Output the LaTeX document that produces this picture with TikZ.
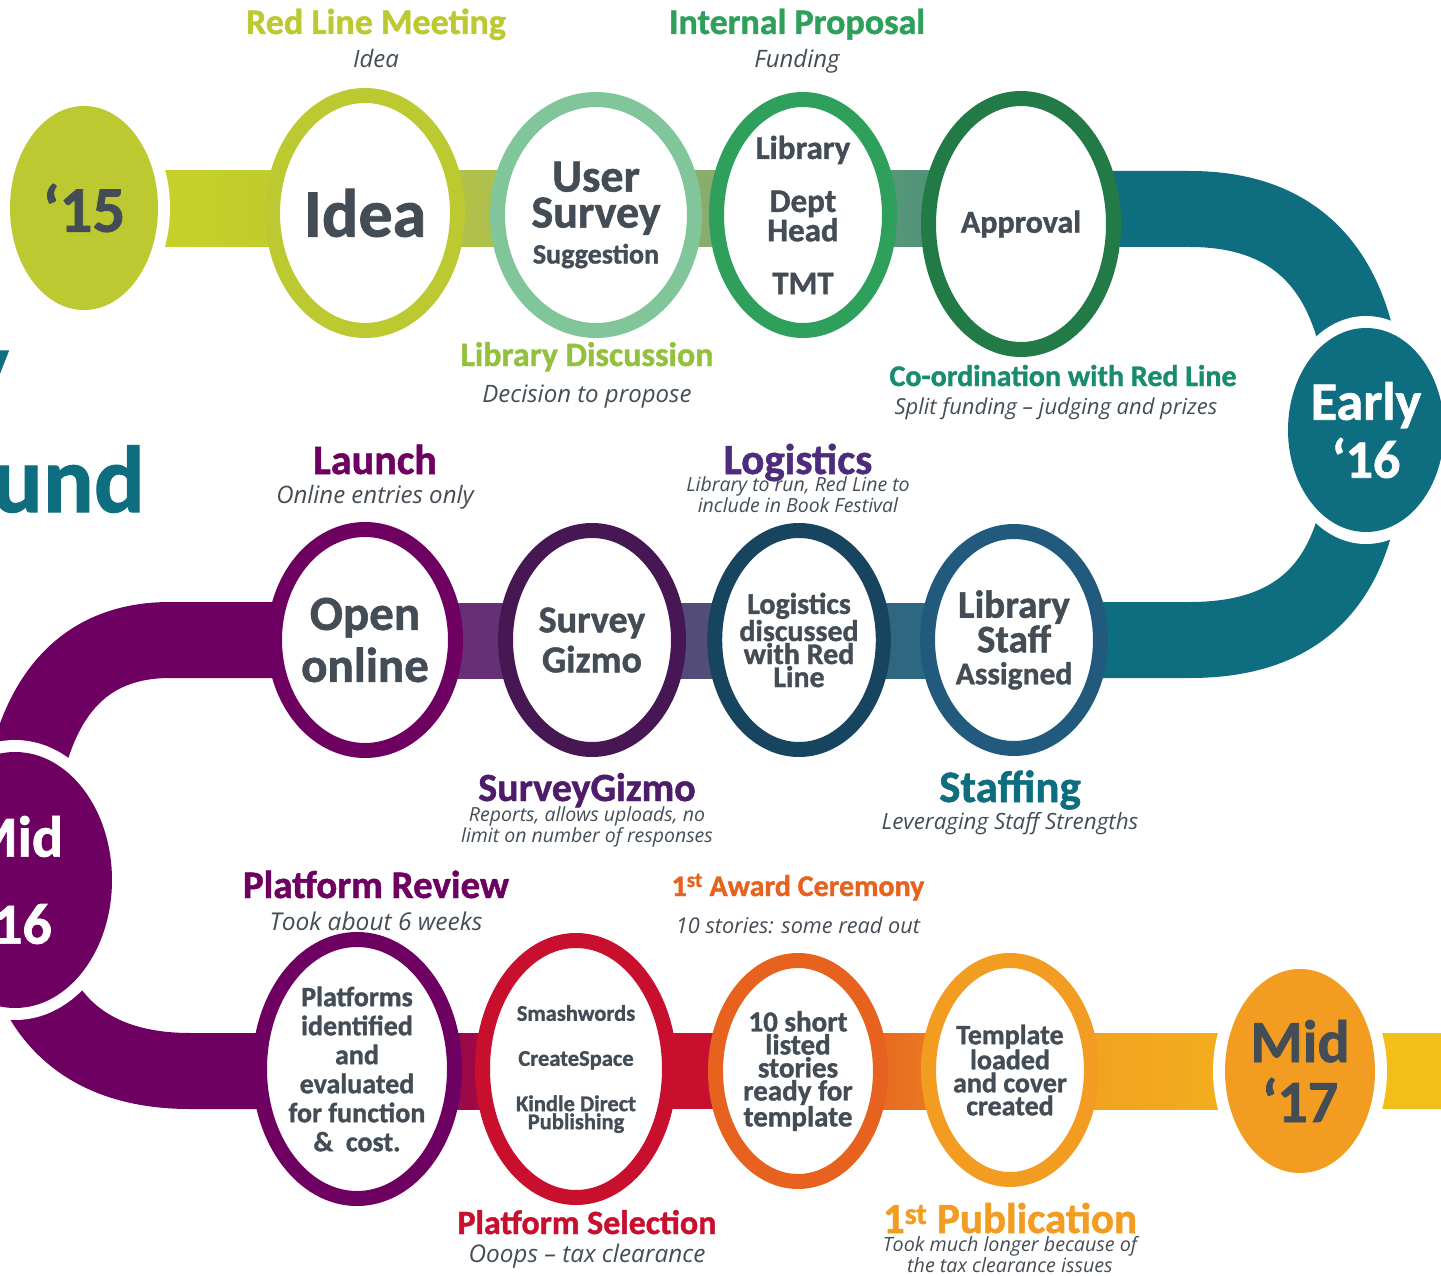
\documentclass[tikz,border=0pt]{standalone}
\usepackage{fontspec}
\setmainfont{Carlito}[BoldFeatures={FakeBold=1.2}]
\newfontfamily\notefont{Open Sans}
\usetikzlibrary{shapes.geometric}
\definecolor{txtgrey}{HTML}{444D56}
\definecolor{lime}{HTML}{BCC930}
\definecolor{mint}{HTML}{80C69A}
\definecolor{leaf}{HTML}{2EA05B}
\definecolor{forest}{HTML}{227A47}
\definecolor{sea}{HTML}{0F6D80}
\definecolor{plum}{HTML}{6E0061}
\definecolor{grape}{HTML}{461752}
\definecolor{deepteal}{HTML}{17445E}
\definecolor{steel}{HTML}{225A7E}
\definecolor{crimson}{HTML}{C8102E}
\definecolor{tangerine}{HTML}{E8621F}
\definecolor{amber}{HTML}{F29C22}
\definecolor{sun}{HTML}{F3BE1A}
\definecolor{libdisc}{HTML}{93C13E}
\definecolor{coord}{HTML}{178C6F}
\definecolor{logist}{HTML}{4D2C7E}
\definecolor{sgizmo}{HTML}{4F1C6C}
\pgfdeclarelayer{background}
\pgfsetlayers{background,main}
\newcommand{\fs}[2]{\fontsize{#1}{#2}\selectfont}
\begin{document}
\begin{tikzpicture}[x=1pt,y=-1pt,
    ring/.style={ellipse,draw=#1,fill=white,line width=15pt,inner sep=0pt,align=center,text=txtgrey},
    datenode/.style={ellipse,fill=#1,inner sep=0pt,align=center},
    band/.style={line width=76pt},
    title/.style={anchor=base,text=#1},
    note/.style={anchor=base,align=center,text=txtgrey}]
\useasboundingbox (0,0) rectangle (1441,1276);
% milestones, top row
\node[datenode=lime,text=txtgrey,minimum width=148,minimum height=204,font=\bfseries\fs{65}{60}] (y15) at (84,208) {‘15};
\node[ring=lime,minimum width=185,minimum height=235,font=\bfseries\fs{68}{60}] (idea) at (365,213) {Idea};
\node[ring=mint,minimum width=197,minimum height=231,font=\bfseries\fs{46}{36}] (survey) at (596,215) {User\\Survey\\{\fs{28}{27}Suggestion}};
\node[ring=leaf,minimum width=173,minimum height=231,font=\bfseries\fs{33}{27}] (library) at (803,215) {Library\\[26pt]Dept\\Head\\[26pt]TMT};
\node[ring=forest,minimum width=185,minimum height=251,font=\bfseries\fs{32}{30}] (approval) at (1021,224) {Approval};
\node[datenode=sea,text=white,minimum width=150,minimum height=204,font=\bfseries\fs{54}{58}] (early) at (1366,430) {Early\\‘16};
% middle row
\node[ring=plum,minimum width=181,minimum height=221,font=\bfseries\fs{49}{52}] (open) at (365,640) {Open\\online};
\node[ring=grape,minimum width=173,minimum height=219,font=\bfseries\fs{38}{40}] (gizmo) at (592,640) {Survey\\Gizmo};
\node[ring=deepteal,minimum width=163,minimum height=219,font=\bfseries\fs{30}{23}] (logistics) at (799,640) {Logistics\\discussed\\with Red\\Line};
\node[ring=steel,minimum width=173,minimum height=217,font=\bfseries\fs{39}{32}] (staff) at (1014,640) {Library\\Staff\\{\fs{31.5}{25}Assigned}};
\node[datenode=plum,text=white,minimum width=194,minimum height=256,font=\bfseries\fs{58}{87}] (mid16) at (15,880) {Mid\\‘16};
% bottom row
\node[ring=plum,minimum width=195,minimum height=259,font=\bfseries\fs{28}{29}] (platforms) at (357,1069) {Platforms\\identified\\and\\evaluated\\for function\\\&~ cost.};
\node[ring=crimson,minimum width=187,minimum height=257,font=\bfseries\fs{22.5}{18}] (smash) at (576,1069) {Smashwords\\[27pt]CreateSpace\\[25pt]Kindle Direct\\Publishing};
\node[ring=tangerine,minimum width=165,minimum height=221,font=\bfseries\fs{29}{23}] (short) at (798,1071) {10 short\\listed\\stories\\ready for\\template};
\node[ring=amber,minimum width=163,minimum height=219,font=\bfseries\fs{28}{23}] (template) at (1010,1070) {Template\\loaded\\and cover\\created};
\node[datenode=amber,text=txtgrey,minimum width=150,minimum height=204,font=\bfseries\fs{60}{60}] (mid17) at (1300,1071) {Mid\\‘17};
% captions
\node[title=lime,font=\bfseries\fs{36}{38}] (meeting) at (376,34) {Red Line Meeting};
\node[note,font=\notefont\itshape\fs{24}{24}] (meetingnote) at (376,68) {Idea};
\node[title=leaf,font=\bfseries\fs{36}{38}] (proposal) at (797,34) {Internal Proposal};
\node[note,font=\notefont\itshape\fs{24}{24}] (proposalnote) at (797,68) {Funding};
\node[title=libdisc,font=\bfseries\fs{34}{36}] (discussion) at (587,366) {Library Discussion};
\node[note,font=\notefont\itshape\fs{24}{24}] (discussionnote) at (587,402) {Decision to propose};
\node[title=coord,font=\bfseries\fs{30}{32}] (coordination) at (1063,386) {Co-ordination with Red Line};
\node[note,font=\notefont\itshape\fs{22}{22}] (coordinationnote) at (1056,414) {Split funding – judging and prizes};
\node[title=plum,font=\bfseries\fs{42}{44}] (launch) at (375,474) {Launch};
\node[note,font=\notefont\itshape\fs{24}{24}] (launchnote) at (375,503) {Online entries only};
\node[title=logist,font=\bfseries\fs{43}{45}] (logtitle) at (798,474) {Logistics};
\node[note,font=\notefont\itshape\fs{19.5}{17.5}] (lognote) at (798,512) {Library to run, Red Line to\\include in Book Festival};
\node[title=sgizmo,font=\bfseries\fs{40}{42}] (gizmotitle) at (587,801) {SurveyGizmo};
\node[note,font=\notefont\itshape\fs{19.5}{18}] (gizmonote) at (587,842) {Reports, allows uploads, no\\limit on number of responses};
\node[title=sea,font=\bfseries\fs{45}{47}] (staffing) at (1010,802) {Staffing};
\node[note,font=\notefont\itshape\fs{22.4}{23}] (staffingnote) at (1010,829) {Leveraging Staff Strengths};
\node[title=plum,font=\bfseries\fs{39}{41}] (review) at (376,898) {Platform Review};
\node[note,font=\notefont\itshape\fs{24.5}{25}] (reviewnote) at (376,930) {Took about 6 weeks};
\node[title=tangerine,font=\bfseries\fs{30}{32}] (award) at (798,896) {1\textsuperscript{st} Award Ceremony};
\node[note,font=\notefont\itshape\fs{21.7}{22}] (awardnote) at (798,933) {10 stories: some read out};
\node[title=crimson,font=\bfseries\fs{34}{36}] (selection) at (587,1234) {Platform Selection};
\node[note,font=\notefont\itshape\fs{24.3}{25}] (selectionnote) at (587,1262) {Ooops – tax clearance};
\node[title=amber,font=\bfseries\fs{43}{45}] (publication) at (1010,1233) {1\textsuperscript{st} Publication};
\node[note,font=\notefont\itshape\fs{19.7}{18.5}] (publicationnote) at (1010,1272) {Took much longer because of\\the tax clearance issues};
\node[anchor=base east,inner sep=0pt,text=sea,font=\bfseries\fs{95}{95}] (und) at (145,512) {und};
\node[anchor=base east,inner sep=0pt,text=sea,font=\bfseries\fs{95}{95}] (ytail) at (9,397) {y};
% the road behind the milestones
\begin{pgfonlayer}{background}
  \shade[left color=lime!80!yellow,right color=lime] (y15.center |- 0,171) rectangle (idea.center |- 0,247);
  \shade[left color={rgb,255:red,185;green,195;blue,63},right color={rgb,255:red,165;green,190;blue,88}] (idea.center |- 0,171) rectangle (survey.center |- 0,247);
  \shade[left color={rgb,255:red,149;green,178;blue,102},right color={rgb,255:red,127;green,169;blue,113}] (survey.center |- 0,171) rectangle (library.center |- 0,247);
  \shade[left color={rgb,255:red,106;green,159;blue,118},right color={rgb,255:red,60;green,138;blue,126}] (library.center |- 0,171) rectangle (approval.center |- 0,247);
  \draw[band,sea] (approval.center |- 0,209) -- (1190,209) .. controls (1320,209) and (early.center |- 0,300) .. (early.center)
        .. controls (early.center |- 0,560) and (1320,640) .. (1190,640) -- (staff.center |- 0,640);
  \shade[left color={rgb,255:red,58;green,95;blue,126},right color={rgb,255:red,34;green,111;blue,130}] (logistics.center |- 0,603) rectangle (staff.center |- 0,678);
  \shade[left color={rgb,255:red,94;green,66;blue,118},right color={rgb,255:red,70;green,88;blue,122}] (gizmo.center |- 0,603) rectangle (logistics.center |- 0,678);
  \shade[left color={rgb,255:red,114;green,40;blue,122},right color={rgb,255:red,92;green,54;blue,112}] (open.center |- 0,603) rectangle (gizmo.center |- 0,678);
  \draw[band,plum] (open.center |- 0,640) -- (170,640) .. controls (60,640) and (mid16.center |- 0,730) .. (mid16.center)
        .. controls (mid16.center |- 0,1010) and (80,1071) .. (190,1071) -- (platforms.center |- 0,1071);
  \shade[left color=plum,right color=crimson] (platforms.center |- 0,1033) rectangle (smash.center |- 0,1109);
  \fill[crimson] (smash.center |- 0,1033) rectangle (short.center |- 0,1109);
  \shade[left color=tangerine!80!crimson,right color=amber!80!tangerine] (short.center |- 0,1033) rectangle (template.center |- 0,1109);
  \shade[left color=amber,right color=sun!70!amber] (template.center |- 0,1033) rectangle (mid17.center |- 0,1109);
  \fill[sun] (mid17.center |- 0,1033) rectangle (1441,1109);
  \foreach \d/\rx/\ry in {y15/86/114,early/87/114,mid16/109/140,mid17/87/114}
    \fill[white] (\d.center) ellipse [x radius=\rx,y radius=\ry];
\end{pgfonlayer}
\end{tikzpicture}
\end{document}
